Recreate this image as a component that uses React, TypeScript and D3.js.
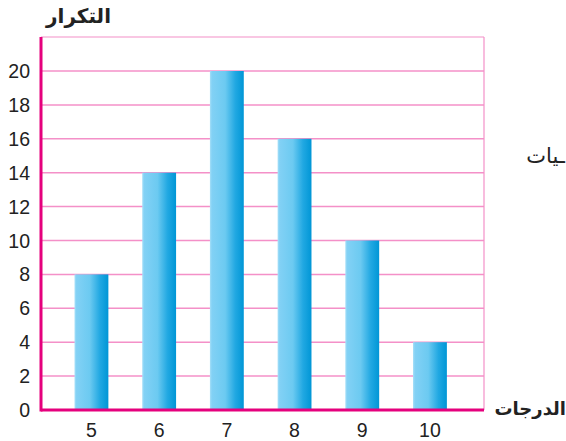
import React from "react";
import * as d3 from "d3";

const grades = ["5", "6", "7", "8", "9", "10"];
const frequencies = [8, 14, 20, 16, 10, 4];
const yTicks = [0, 2, 4, 6, 8, 10, 12, 14, 16, 18, 20];
const yTitle = "التكرار";
const xTitle = "الدرجات";
const sideText = "ـيات";

export default function App() {
  const W = 566, H = 441;
  const left = 41, right = 484, top = 37, bottom = 410;
  const y = d3.scaleLinear().domain([0, 20]).range([bottom, 71]);
  const x = d3.scaleBand<string>().domain(grades).range([57.6, 463.8]).paddingInner(0.5).paddingOuter(0.25);
  const gridColor = "#f490c8";
  const axisColor = "#e5007d";
  const numFont = "Liberation Sans, Arial, sans-serif";
  const arFont = "DejaVu Sans, sans-serif";
  return (
    <div style={{ position: "absolute", left: 0, top: 0 }}>
      <svg width={W} height={H} style={{ display: "block" }}>
        <defs>
          <linearGradient id="barGrad" x1="0" x2="1" y1="0" y2="0">
            <stop offset="0" stopColor="#a6dff8" />
            <stop offset="0.06" stopColor="#82d1f5" />
            <stop offset="0.45" stopColor="#6ccaf1" />
            <stop offset="0.75" stopColor="#21a8e2" />
            <stop offset="1" stopColor="#0096d6" />
          </linearGradient>
        </defs>
        <rect x={0} y={0} width={W} height={H} fill="#fff" />
        <line x1={left} x2={right} y1={top} y2={top} stroke={gridColor} strokeWidth={1.2} />
        <line x1={right} x2={right} y1={top} y2={bottom} stroke={gridColor} strokeWidth={1.2} />
        {yTicks.filter((t) => t > 0).map((t) => (
          <line key={t} x1={left} x2={right} y1={y(t)} y2={y(t)} stroke={gridColor} strokeWidth={1.5} />
        ))}
        {grades.map((g, i) => (
          <rect
            key={g}
            x={x(g)}
            y={y(frequencies[i])}
            width={x.bandwidth()}
            height={bottom - y(frequencies[i])}
            fill="url(#barGrad)"
          />
        ))}
        <line x1={left} x2={left} y1={top} y2={bottom + 1.5} stroke={axisColor} strokeWidth={3} />
        <line x1={left} x2={right} y1={bottom} y2={bottom} stroke={axisColor} strokeWidth={3} />
        {yTicks.map((t) => (
          <text key={t} x={30} y={y(t) + 7} textAnchor="end" fontFamily={numFont} fontSize={19.5} fill="#222">
            {t}
          </text>
        ))}
        {grades.map((g) => (
          <text key={g} x={(x(g) as number) + x.bandwidth() / 2} y={437} textAnchor="middle" fontFamily={numFont} fontSize={19.5} fill="#222">
            {g}
          </text>
        ))}
        <text x={111} y={23} direction="rtl" textAnchor="start" fontFamily={arFont} fontWeight="bold" fontSize={20} fill="#222">
          {yTitle}
        </text>
        <text x={566} y={415} direction="rtl" textAnchor="start" fontFamily={arFont} fontWeight="bold" fontSize={18} fill="#222">
          {xTitle}
        </text>
        <text x={565} y={163} direction="rtl" textAnchor="start" fontFamily={arFont} fontSize={21} fill="#222">
          {sideText}
        </text>
      </svg>
    </div>
  );
}
